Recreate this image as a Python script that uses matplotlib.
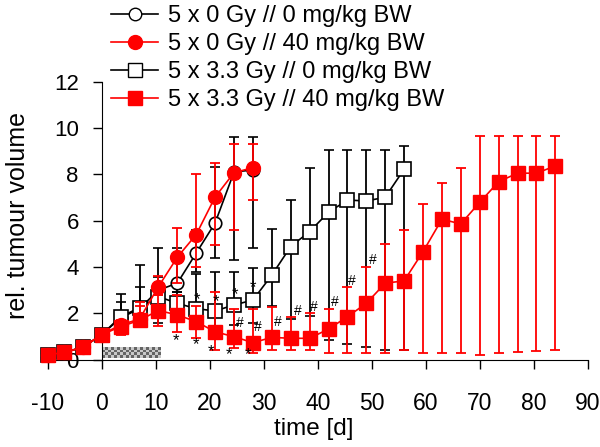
import matplotlib
matplotlib.use("Agg")
import matplotlib.pyplot as plt
import numpy as np

plt.rcParams['font.family'] = ['Liberation Sans', 'DejaVu Sans']
plt.rcParams['axes.unicode_minus'] = False

# days of measurement
days_c = [-10, -7, -3.5, 0, 3.5, 7, 10.5, 14, 17.5, 21, 24.5, 28]
days_s = [-10, -7, -3.5, 0, 3.5, 7, 10.5, 14, 17.5, 21, 24.5, 28,
          31.5, 35, 38.5, 42, 45.5, 49, 52.5, 56]
days_r = days_s + [59.5, 63, 66.5, 70, 73.5, 77, 80.5, 84]

# 5 x 0 Gy // 0 mg/kg BW (open circles)
ctrl = [0.2, 0.31, 0.53, 1.08, 1.8, 2.2, 3.0, 3.3, 4.6, 5.9, 8.1, 8.19]
ctrl_lo = [0.15, 0.25, 0.45, 1.0, 1.4, 1.6, 2.5, 2.9, 3.8, 4.37, 4.3, 4.81]
ctrl_hi = [0.34, 0.36, 0.6, 1.15, 2.5, 3.12, 3.58, 4.81, 5.6, 8.33, 9.63, 9.63]

# 5 x 0 Gy // 40 mg/kg BW (red circles)
drug = [0.2, 0.31, 0.53, 1.08, 1.5, 1.75, 3.15, 4.42, 5.4, 7.02, 8.07, 8.29]
drug_lo = [0.15, 0.25, 0.45, 1.0, 1.2, 1.5, 2.8, 3.3, 4.0, 4.95, 5.6, 6.89]
drug_hi = [0.25, 0.35, 0.6, 1.15, 1.7, 2.3, 3.6, 5.67, 8.0, 8.48, 9.31, 9.31]

# 5 x 3.3 Gy // 0 mg/kg BW (open squares)
irr = [0.2, 0.31, 0.53, 1.08, 1.85, 2.24, 2.72, 2.43, 2.2, 2.1, 2.36, 2.57,
       3.65, 4.88, 5.53, 6.36, 6.89, 6.85, 7.01, 8.22]
irr_lo = [0.15, 0.25, 0.45, 1.0, 1.2, 1.5, 1.6, 1.7, 1.5, 1.4, 1.5, 1.6,
          2.3, 1.75, 1.9, 0.85, 0.67, 0.56, 0.41, 0.41]
irr_hi = [0.34, 0.36, 0.6, 1.15, 2.83, 4.09, 4.83, 2.9, 3.7, 3.8, 3.8, 3.94,
          5.64, 6.89, 8.29, 9.05, 9.05, 9.05, 9.05, 9.24]

# 5 x 3.3 Gy // 40 mg/kg BW (red squares)
comb = [0.2, 0.31, 0.53, 1.08, 1.42, 1.7, 2.12, 1.93, 1.64, 1.2, 0.99, 0.73,
        0.96, 0.92, 0.92, 1.32, 1.85, 2.43, 3.3, 3.4, 4.66, 6.06, 5.86, 6.79,
        7.68, 8.05, 8.05, 8.36]
comb_lo = [0.15, 0.25, 0.45, 1.0, 1.06, 1.4, 1.46, 1.2, 0.95, 0.41, 0.5, 0.27,
           0.41, 0.41, 0.41, 0.27, 0.27, 0.27, 0.27, 0.41, 0.27, 0.27, 0.27, 0.2,
           0.27, 0.31, 0.38, 0.41]
comb_hi = [0.25, 0.35, 0.6, 1.15, 1.6, 2.5, 2.8, 2.8, 2.3, 2.9, 2.2, 2.2,
           2.29, 1.85, 2.0, 2.17, 3.15, 3.99, 4.99, 5.6, 6.72, 7.64, 8.29, 9.67,
           9.67, 9.67, 9.67, 9.67]

labels = ["5 x 0 Gy // 0 mg/kg BW", "5 x 0 Gy // 40 mg/kg BW",
          "5 x 3.3 Gy // 0 mg/kg BW", "5 x 3.3 Gy // 40 mg/kg BW"]

# significance marks
star_x = [13.8, 17.5, 20.2, 23.6, 27, 17.7, 21.2, 24.7, 28]
star_y = [0.8, 0.63, 0.34, 0.2, 0.2, 2.57, 2.5, 2.79, 3.1]
hash_x = [25.6, 29, 32.6, 36.3, 39.3, 43.1, 46.3, 50.2]
hash_y = [1.6, 1.4, 1.64, 2.11, 2.29, 2.48, 3.4, 4.3]

# treatment period (checkered bar)
treat = [0, 10.8, 0.05, 0.52]

fig = plt.figure(figsize=(6, 4.47), dpi=100)
ax = fig.add_axes([40.7 / 600, 1 - 359.6 / 447, 547 / 600, 277.9 / 447])


def err(v, lo, hi):
    v = np.array(v)
    return [v - np.array(lo), np.array(hi) - v]


eb = dict(capsize=3.8, elinewidth=1.3, capthick=1.3, lw=1.2, clip_on=False)
ax.errorbar(days_c, ctrl, yerr=err(ctrl, ctrl_lo, ctrl_hi), color='black',
            marker='o', ms=9, mfc='white', mec='black', mew=1.2, zorder=3, **eb)
ax.errorbar(days_s, irr, yerr=err(irr, irr_lo, irr_hi), color='black',
            marker='s', ms=9.5, mfc='white', mec='black', mew=1.2, zorder=3, **eb)
ax.errorbar(days_c, drug, yerr=err(drug, drug_lo, drug_hi), color='red',
            marker='o', ms=10, mfc='red', mec='red', zorder=4, **eb)
ax.errorbar(days_r, comb, yerr=err(comb, comb_lo, comb_hi), color='red',
            marker='s', ms=10.5, mfc='red', mec='red', zorder=4, **eb)

for x, y in zip(star_x, star_y):
    ax.text(x, y, '*', fontsize=12, ha='center', va='center', zorder=6)
for x, y in zip(hash_x, hash_y):
    ax.text(x, y, '#', fontsize=10, ha='center', va='center', zorder=6)

ii, jj = np.indices((4, 20))
ax.imshow((ii + jj) % 2, cmap='Greys', vmin=-0.9, vmax=1.9, aspect='auto',
          extent=treat, interpolation='nearest', zorder=1)

ax.set_xlim(-11.3, 90)
ax.set_ylim(0, 12)
ax.spines['left'].set_position(('data', 0))
ax.spines['top'].set_visible(False)
ax.spines['right'].set_visible(False)
ax.spines['bottom'].set_bounds(-11.3, 90)
ax.set_xticks(range(-10, 91, 10))
ax.set_yticks(range(0, 13, 2))
ax.tick_params(axis='both', direction='out', length=6.5, width=1, color='black')
ax.tick_params(axis='x', labelsize=16.5, pad=17)
ax.tick_params(axis='y', labelsize=16, pad=10)
ax.set_xlabel("time [d]", fontsize=17.5, labelpad=2)
ax.set_ylabel("rel. tumour volume", fontsize=18)
ax.yaxis.set_label_coords(-0.02, 0.52, transform=ax.transAxes)

handles = [
    plt.Line2D([], [], color='black', marker='o', ms=9, mfc='white', lw=1.2),
    plt.Line2D([], [], color='red', marker='o', ms=10, lw=1.2),
    plt.Line2D([], [], color='black', marker='s', ms=9.5, mfc='white', lw=1.2),
    plt.Line2D([], [], color='red', marker='s', ms=10.5, lw=1.2),
]
fig.legend(handles, labels, loc='upper left', bbox_to_anchor=(111 / 600, 1 - 5 / 447),
           frameon=False, fontsize=17, handlelength=2.0, handletextpad=0.4,
           labelspacing=0.26, borderpad=0, borderaxespad=0)

fig.savefig("out.png", dpi=100)
